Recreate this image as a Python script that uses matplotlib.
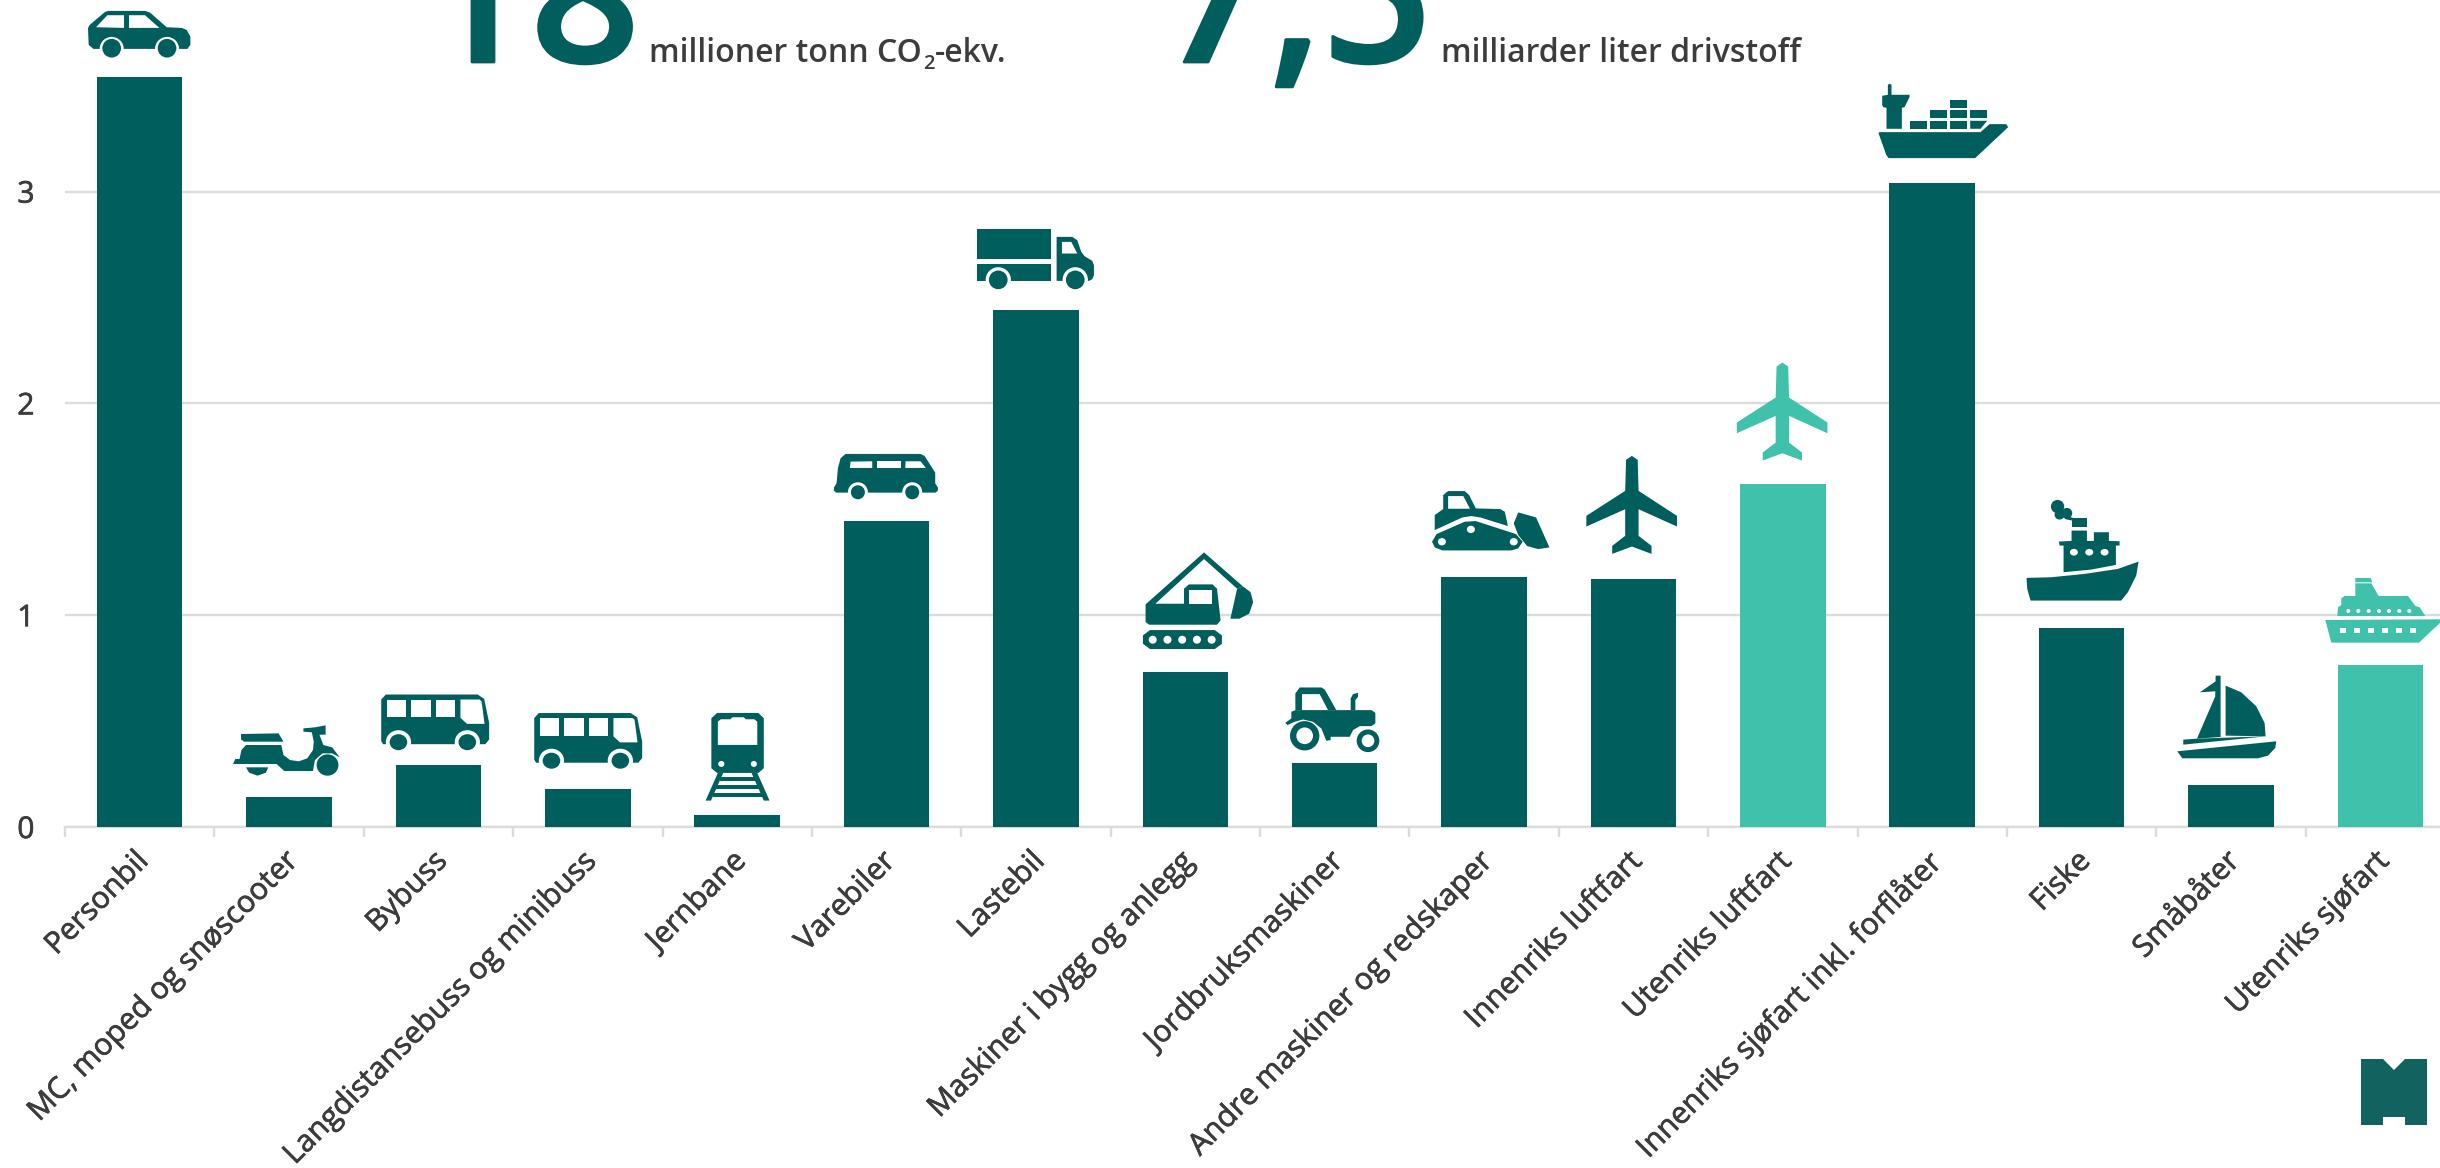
import matplotlib
matplotlib.use("Agg")
import matplotlib.pyplot as plt
import matplotlib.patheffects as pe
from matplotlib.patches import Polygon, Ellipse
from matplotlib.transforms import Affine2D, IdentityTransform, ScaledTranslation

categories = ["Personbil", "MC, moped og snøscooter", "Bybuss", "Langdistansebuss og minibuss",
              "Jernbane", "Varebiler", "Lastebil", "Maskiner i bygg og anlegg", "Jordbruksmaskiner",
              "Andre maskiner og redskaper", "Innenriks luftfart", "Utenriks luftfart",
              "Innenriks sjøfart inkl. forflåter", "Fiske", "Småbåter", "Utenriks sjøfart"]
values = [3.54, 0.14, 0.295, 0.18, 0.057, 1.445, 2.44, 0.73, 0.30, 1.18, 1.17, 1.62, 3.04, 0.94, 0.20, 0.765]
international = ["Utenriks luftfart", "Utenriks sjøfart"]
y_ticks = [0, 1, 2, 3]

DARK = "#005F5D"
LIGHT = "#40C1AC"
GRID = "#DCDCDC"
TEXT = "#3C3C3C"
W, H = 2440, 1168

plt.rcParams["font.family"] = ["Open Sans", "DejaVu Sans"]


def P(*pts):
    return ("p", 1, pts)


def Hole(*pts):
    return ("p", 0, pts)


def C(x, y, rx, ry=None):
    return ("c", 1, (x, y, rx, ry or rx))


def CH(x, y, rx, ry=None):
    return ("c", 0, (x, y, rx, ry or rx))


def box(x0, y0, x1, y1, on=1):
    return ("p", on, ((x0, y0), (x1, y0), (x1, y1), (x0, y1)))


# icon shapes are traced in zoomed reference coordinates, anchor = top centre of the bar
BUS = [
    P((473, 120), (485, 105), (725, 105), (742, 118), (755, 190), (755, 240), (745, 254), (478, 254), (473, 245)),
    box(487, 120, 538, 173, 0), box(551, 120, 602, 173, 0), box(615, 120, 665, 173, 0),
    Hole((680, 120), (730, 120), (735, 125), (743, 193), (697, 193), (680, 175)),
    CH(518, 248, 33, 36), C(518, 248, 23, 24), CH(698, 248, 33, 36), C(698, 248, 23, 24),
]
PLANE = [
    P((1189, -12), (1202, 0), (1204, 93), (1290, 168), (1290, 200), (1204, 148), (1204, 228), (1233, 258),
      (1233, 282), (1189, 260), (1145, 282), (1145, 258), (1174, 228), (1174, 148), (1087, 200), (1087, 168),
      (1174, 93), (1176, 0)),
]

ICONS = {
    "Personbil": ((3, 3), (209, 232), [
        P((54, 85), (58, 76), (105, 36), (115, 33), (225, 33), (240, 38), (290, 82), (335, 84), (350, 90),
          (361, 110), (361, 135), (352, 147), (70, 147), (56, 135)),
        Hole((78, 82), (112, 46), (162, 46), (162, 84)), Hole((177, 46), (225, 46), (268, 84), (177, 84)),
        CH(125, 147, 36), C(125, 145, 28), CH(291, 147, 36), C(291, 145, 28),
    ]),
    "MC, moped og snøscooter": ((2.613, 3), (232.5, 412), [
        P((107, 222), (205, 220), (218, 245), (115, 245), (107, 238)),
        P((86, 312), (92, 297), (103, 297), (108, 270), (120, 255), (212, 255), (218, 285), (235, 300), (258, 304),
          (280, 295), (295, 270), (297, 245), (292, 217), (270, 215), (270, 205), (300, 202), (328, 196), (328, 224),
          (312, 224), (322, 255), (345, 262), (365, 292), (345, 280), (320, 280), (300, 300), (295, 333), (220, 333),
          (200, 312)),
        C(333, 315, 28.5, 32),
        P((120, 322), (178, 322), (172, 338), (150, 347), (128, 338)),
    ]),
    "Bybuss": ((2.613, 3), (622.5, 315), BUS),
    "Langdistansebuss og minibuss": ((2.613, 3), (613, 332.5), BUS),
    "Jernbane": ((2.613, 3), (1402.5, 465), [
        P((1335, 175), (1350, 159), (1458, 159), (1472, 175), (1472, 325), (1458, 339), (1350, 339), (1335, 325)),
        Hole((1352, 185), (1360, 178), (1385, 178), (1390, 172), (1420, 172), (1425, 178), (1447, 178), (1455, 185),
             (1455, 255), (1352, 255)),
        CH(1361, 312, 8, 9), CH(1446, 312, 8, 9),
        P((1352, 339), (1366, 339), (1334, 422), (1320, 422)), P((1440, 339), (1455, 339), (1487, 422), (1472, 422)),
        box(1358, 350, 1449, 362), box(1348, 375, 1459, 387), box(1338, 398, 1469, 410),
    ]),
    "Varebiler": ((3, 3), (198, 243), [
        P((40, 143), (48, 130), (52, 85), (60, 55), (75, 42), (300, 42), (312, 48), (344, 98), (344, 130), (352, 143),
          (352, 152), (345, 158), (47, 158), (40, 152)),
        Hole((90, 65), (155, 64), (155, 84), (88, 84)), box(170, 64, 240, 84, 0),
        Hole((255, 64), (300, 64), (316, 84), (254, 84)),
        CH(112, 157, 30), C(112, 157, 21), CH(275, 157, 30), C(275, 157, 21),
    ]),
    "Lastebil": ((3, 3), (226, 300), [
        box(48, 57, 272, 145), box(48, 160, 272, 212),
        P((288, 80), (335, 80), (350, 90), (362, 125), (372, 138), (395, 152), (400, 165), (400, 195), (395, 207),
          (385, 212), (288, 212)),
        Hole((304, 95), (332, 95), (350, 130), (304, 130)),
        CH(113, 209, 38), C(113, 209, 28), CH(344, 209, 38), C(344, 209, 28),
    ]),
    "Maskiner i bygg og anlegg": ((2.24, 3), (189, 636), [
        P((100, 432), (231, 276), (318, 378), (305, 385), (231, 296), (122, 430), (186, 430), (186, 385), (197, 372),
          (250, 372), (260, 385), (268, 480), (260, 493), (108, 493), (100, 485)),
        box(198, 388, 249, 430, 0),
        P((318, 378), (335, 395), (341, 425), (332, 460), (310, 475), (290, 475), (305, 385)),
        P((110, 509), (255, 509), (271, 525), (271, 550), (255, 566), (110, 566), (94, 550), (94, 525)),
        CH(116, 538, 9, 12), CH(149, 538, 9, 12), CH(182, 538, 9, 12), CH(215, 538, 9, 12), CH(248, 538, 9, 12),
    ]),
    "Jordbruksmaskiner": ((3, 3), (190, 280), [
        P((72, 120), (72, 70), (85, 52), (150, 52), (160, 58), (195, 120)),
        Hole((92, 72), (145, 72), (170, 120), (92, 120)),
        P((60, 125), (72, 120), (300, 120), (312, 128), (312, 160), (300, 168), (265, 168), (245, 180), (235, 200),
          (178, 200), (178, 210), (165, 212), (160, 200), (150, 175), (125, 155), (95, 148), (70, 155), (48, 165),
          (42, 158), (60, 145)),
        P((238, 120), (238, 85), (245, 72), (260, 68), (260, 80), (252, 90), (252, 120)),
        C(100, 197, 44), CH(100, 197, 25), C(290, 212, 34), CH(290, 212, 19),
    ]),
    "Andre maskiner og redskaper": ((2.24, 3), (858.5, 351), [
        P((748, 165), (767, 147), (767, 105), (778, 93), (815, 93), (825, 105), (840, 145), (895, 147), (905, 155),
          (912, 198), (850, 172), (830, 168), (810, 172), (748, 210)),
        Hole((778, 108), (812, 108), (827, 146), (778, 146)),
        P((752, 222), (815, 185), (840, 183), (930, 222), (945, 245), (935, 265), (920, 271), (765, 271), (748, 262),
          (742, 245)),
        CH(764, 245, 9, 11), CH(829, 208, 9, 11), CH(925, 245, 9, 11),
        P((935, 157), (975, 172), (1005, 262), (980, 267), (955, 258), (935, 225), (925, 190)),
    ]),
    "Innenriks luftfart": ((2.24, 3), (1192.5, 358), PLANE),
    "Utenriks luftfart": ((2.24, 3), (1190, 352), PLANE),
    "Innenriks sjøfart inkl. forflåter": ((3, 3), (213, 340), [
        P((80, 45), (85, 42), (91, 45), (91, 75), (145, 75), (145, 82), (130, 112), (122, 114), (122, 177), (76, 177),
          (76, 114), (66, 112), (63, 105), (63, 78), (80, 75)),
        box(147, 153, 198, 177), box(207, 153, 258, 177), box(267, 153, 318, 177),
        P((327, 153), (378, 153), (358, 177), (327, 177)),
        box(207, 120, 258, 145), box(267, 120, 318, 145), box(327, 120, 378, 145), box(267, 90, 318, 115),
        P((52, 190), (55, 187), (358, 187), (385, 163), (435, 163), (441, 172), (342, 265), (82, 265), (75, 255)),
    ]),
    "Fiske": ((3, 3), (391, 382), [
        P((226, 232), (300, 230), (400, 220), (500, 205), (562, 183), (555, 225), (530, 275), (510, 300), (238, 300),
          (228, 265)),
        P((337, 215), (337, 135), (325, 135), (323, 123), (361, 121), (361, 90), (407, 90), (407, 121), (428, 121),
          (428, 95), (473, 95), (473, 121), (505, 122), (505, 135), (494, 135), (494, 193), (420, 207)),
        CH(368, 155, 12, 10), CH(414, 155, 12, 10), CH(460, 155, 12, 10),
        box(361, 52, 407, 78),
        C(319, 18, 20), C(325, 42, 15), C(347, 38, 16), P((345, 45), (365, 52), (361, 60), (340, 55)),
    ]),
    "Småbåter": ((3, 3), (839, 855), [
        P((678, 755), (975, 725), (972, 745), (950, 768), (920, 776), (693, 776)),
        P((746, 578), (793, 545), (793, 528), (808, 528), (808, 712), (737, 717), (792, 590), (792, 575)),
        P((696, 720), (737, 717), (945, 710), (696, 735)),
        P((823, 558), (870, 578), (915, 620), (940, 670), (943, 710), (823, 708)),
    ]),
    "Utenriks sjøfart": ((3, 3), (1287, 495), [
        P((1122, 360), (1470, 358), (1470, 365), (1403, 428), (1140, 428)),
        box(1167, 384, 1185, 400, 0), box(1209, 384, 1227, 400, 0), box(1251, 384, 1269, 400, 0),
        box(1293, 384, 1311, 400, 0), box(1335, 384, 1353, 400, 0), box(1377, 384, 1395, 400, 0),
        P((1158, 348), (1160, 322), (1170, 315), (1170, 295), (1180, 288), (1212, 288), (1212, 250), (1260, 250),
          (1282, 288), (1370, 288), (1392, 318), (1405, 322), (1422, 348)),
        CH(1191, 333, 6), CH(1221, 333, 6), CH(1252, 333, 6), CH(1283, 333, 6), CH(1313, 333, 6), CH(1344, 333, 6),
        CH(1374, 333, 6),
        P((1212, 234), (1258, 234), (1263, 247), (1212, 247)),
    ]),
}


def draw_icon(ax, x, y, name, color):
    (sx, sy), anchor, shapes = ICONS[name]
    px, py = ax.transData.transform((x, y))
    tr = Affine2D().translate(-anchor[0], -anchor[1]).scale(1 / sx, -1 / sy).translate(px, py)
    for n, (kind, on, geo) in enumerate(shapes):
        c = color if on else "white"
        if kind == "p":
            patch = Polygon(geo, closed=True, facecolor=c, edgecolor="none")
        else:
            patch = Ellipse((geo[0], geo[1]), 2 * geo[2], 2 * geo[3], facecolor=c, edgecolor="none")
        patch.set_transform(tr)
        patch.set_clip_on(False)
        patch.set_zorder(5 + n * 0.01)
        ax.add_artist(patch)


def header(x, s, size, color=TEXT, y=62, stroke=0.0):
    t = fig.text(x / W, 1 - y / H, s, fontsize=size, color=color, va="baseline", ha="left", fontweight="semibold")
    if stroke:
        t.set_path_effects([pe.withStroke(linewidth=stroke, foreground=color)])
    return t


fig = plt.figure(figsize=(W / 100, H / 100), dpi=100, facecolor="white")
ax = fig.add_axes([65 / W, (H - 827) / H, 2390 / W, 827 / H])
ax.set_xlim(0, len(categories))
ax.set_ylim(0, 827 / 211.8)

xs = [i + 0.5 for i in range(len(categories))]
colors = [LIGHT if c in international else DARK for c in categories]
ax.bar(xs, values, width=0.572, color=colors, zorder=3)

for s in ["top", "left", "right"]:
    ax.spines[s].set_visible(False)
ax.spines["bottom"].set_color(GRID)
ax.spines["bottom"].set_linewidth(1.7)
ax.set_axisbelow(True)
ax.yaxis.grid(True, color=GRID, linewidth=1.7)
ax.set_yticks(y_ticks)
ylabels = ax.set_yticklabels([str(t) for t in y_ticks], fontsize=21.5, color=TEXT, fontweight="medium")
ax.tick_params(axis="y", length=0, pad=22)
ax.set_xticks(range(len(categories) + 1))
ax.set_xticklabels([])
ax.tick_params(axis="x", which="major", length=7.2, width=1.7, color=GRID)
ax.set_xticks(xs, minor=True)
labels = ax.set_xticklabels(categories, minor=True, rotation=45, ha="right", va="top", rotation_mode="anchor",
                            fontsize=21.7, color=TEXT, fontweight="medium")
ax.tick_params(axis="x", which="minor", length=0, pad=16)
# small nudge of the slanted labels, in pixels
nudge = ScaledTranslation(-5.5 / 100, 2.5 / 100, fig.dpi_scale_trans)
for lab in labels:
    lab.set_transform(lab.get_transform() + nudge)
    lab.set_path_effects([pe.withStroke(linewidth=0.5, foreground=TEXT)])
for lab in ylabels:
    lab.set_path_effects([pe.withStroke(linewidth=0.5, foreground=TEXT)])

for x, v, c, col in zip(xs, values, categories, colors):
    draw_icon(ax, x, v, c, col)

# header figures run off the top edge, as in the source
header(421, "18", 138, DARK, stroke=2)
header(1160, "7,5", 139, DARK, stroke=2)

# CO2 with a real subscript: three pieces placed one after the other
renderer = fig.canvas.get_renderer()
t1 = header(649, "millioner tonn CO", 23)
x2 = t1.get_window_extent(renderer).x1 + 1
t2 = header(x2, "2", 14.5, y=69)
x3 = t2.get_window_extent(renderer).x1 + 1
header(x3, "-ekv.", 23)
header(1441, "milliarder liter drivstoff", 23)

logo = Polygon([(2361, 1059), (2383, 1059), (2394, 1070), (2405, 1059), (2427, 1059), (2427, 1125), (2405, 1125),
                (2405, 1117), (2383, 1117), (2383, 1125), (2361, 1125)], closed=True, facecolor="#12625F",
               edgecolor="none",
               transform=Affine2D().scale(1, -1).translate(0, H) + IdentityTransform())
fig.add_artist(logo)

fig.savefig("out.png", dpi=100, facecolor="white")
